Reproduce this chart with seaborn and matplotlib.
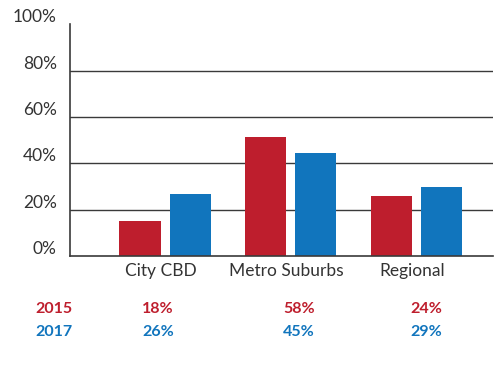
import numpy as np, pandas as pd
import matplotlib as mpl, matplotlib.pyplot as plt
import matplotlib.transforms as mtrans
import seaborn as sns

regions = ['City CBD', 'Metro Suburbs', 'Regional']
years = ['2015', '2017']
bars_2015 = [15.1, 51.2, 25.9]
bars_2017 = [26.7, 44.3, 29.6]
table_2015 = ['18%', '58%', '24%']
table_2017 = ['26%', '45%', '29%']
yticks = [0, 20, 40, 60, 80, 100]

red, blue = '#BE1E2D', '#1175BD'
grey = '#3a3a3a'

sns.set_style('white')
plt.rcParams['font.family'] = ['Lato', 'DejaVu Sans']

df = pd.DataFrame({'region': regions * 2,
                   'year': [years[0]] * 3 + [years[1]] * 3,
                   'value': bars_2015 + bars_2017})

fig = plt.figure(figsize=(5, 3.72), dpi=100)
ax = fig.add_axes([0.14, 0.312, 0.846, 0.623])
sns.barplot(data=df, x='region', y='value', hue='year', palette=[red, blue],
            width=0.8, gap=0.18, legend=False, ax=ax, linewidth=0, saturation=1)

ax.set_xlim(-0.757, 2.61)
ax.set_ylim(0, 100)
for y in yticks[1:-1]:
    ax.axhline(y, color=grey, lw=1, zorder=0)
ax.set_yticks(yticks)
ax.set_yticklabels([f'{v}%' for v in yticks], fontsize=12.5, color='#333333')
ax.tick_params(axis='y', length=0, pad=9.5)
ax.tick_params(axis='x', length=0, pad=5, labelsize=12.5, labelcolor='#333333')
off = mtrans.ScaledTranslation(0, 6 / 72, fig.dpi_scale_trans)
for lab in ax.get_yticklabels():
    lab.set_transform(lab.get_transform() + off)
xoff = mtrans.ScaledTranslation(-4 / 100, 0, fig.dpi_scale_trans)
for lab in ax.get_xticklabels():
    lab.set_transform(lab.get_transform() + xoff)
ax.set_xlabel('')
ax.set_ylabel('')
for s in ['top', 'right']:
    ax.spines[s].set_visible(False)
for s in ['left', 'bottom']:
    ax.spines[s].set_color(grey)
    ax.spines[s].set_linewidth(1.2)

# value table under the chart
cols_x = [0.316, 0.598, 0.852]
for row_y, yr, vals, c in [(0.169, years[0], table_2015, red),
                           (0.107, years[1], table_2017, blue)]:
    fig.text(0.108, row_y, yr, color=c, fontsize=11.5, fontweight='bold',
             ha='center', va='center')
    for x, v in zip(cols_x, vals):
        fig.text(x, row_y, v, color=c, fontsize=11.5, fontweight='bold',
                 ha='center', va='center')

fig.savefig('out.png', dpi=100, facecolor='white')
